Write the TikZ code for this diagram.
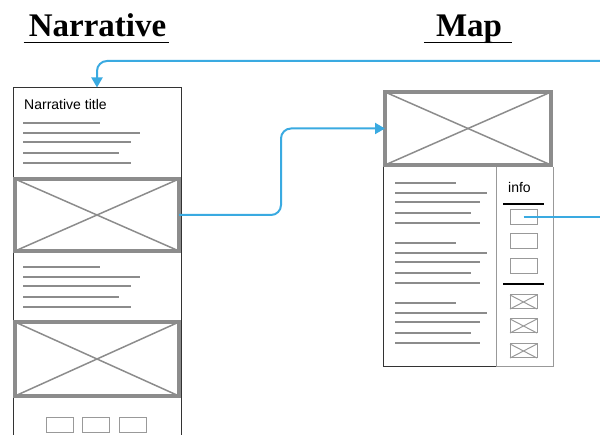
\documentclass[tikz,border=0pt]{standalone}
\usepackage{fontspec}
\setmainfont{Liberation Sans}
\newfontfamily\headfont{Liberation Serif}
\usetikzlibrary{arrows.meta}
\definecolor{wiregray}{HTML}{8C8C8C}
\definecolor{linkblue}{HTML}{3AAAE1}
\tikzset{
  heading/.style={font=\headfont\bfseries\fontsize{33}{33}\selectfont, anchor=base, inner sep=0pt},
  uline/.style={black, line width=1.6pt},
  frame/.style={draw=black!80, line width=1pt},
  softframe/.style={draw=black!40, line width=1pt},
  imgbox/.style={draw=wiregray, line width=4pt, outer sep=0pt, inner sep=0pt},
  crossline/.style={wiregray, line width=1.5pt},
  textline/.style={wiregray, line width=2.5pt},
  smallbox/.style={draw=black!40, line width=1pt, inner sep=0pt, outer sep=0pt, minimum width=27pt, minimum height=15pt},
  label14/.style={font=\fontsize{14}{14}\selectfont, anchor=base west, inner sep=0pt},
  link/.style={linkblue, line width=2pt, rounded corners=10pt},
  tip/.style={-{Triangle[length=10pt,width=11pt]}}
}
\begin{document}
\begin{tikzpicture}[x=1pt,y=-1pt]
    \useasboundingbox (0,0) rectangle (600,435);
    \node[heading] (tnarr) at (97.5,37) {Narrative};
    \draw[uline] ([shift={(-5,5.5)}]tnarr.base west) -- ([shift={(3,5.5)}]tnarr.base east);
    \node[heading] (tmap) at (469,37) {Map};
    \draw[uline] ([shift={(-12,5.5)}]tmap.base west) -- ([shift={(10,5.5)}]tmap.base east);
    \node[frame, inner sep=0pt, minimum width=168pt, minimum height=90pt] (ntext) at (97,133) {};
    \draw[frame] (13,178) -- (13,435) (181,178) -- (181,435);
    \node[label14] (ntitle) at (24,110) {Narrative title};
    \foreach \yb in {123,267}
      \foreach \yo/\xe in {0/100,10/140,19/131,30/119,40/131}
        \draw[textline] (23,\yb+\yo) -- (\xe,\yb+\yo);
    \node[imgbox, minimum width=164pt, minimum height=72pt] (nimgA) at (97,215) {};
    \node[imgbox, minimum width=164pt, minimum height=74pt] (nimgB) at (97,359) {};
    \foreach \x [count=\i] in {60,96,132.5}
      \node[smallbox] (nbtn\i) at (\x,425.5) {};
    \node[imgbox, minimum width=166pt, minimum height=73pt] (mimg) at (468,128.5) {};
    \foreach \n in {nimgA,nimgB,mimg} {
      \draw[crossline] (\n.north west) -- (\n.south east);
      \draw[crossline] (\n.south west) -- (\n.north east);
    }
    \draw[frame] (383,167) -- (383,367) -- (496,367);
    \draw[softframe] (496,167) -- (496,367) -- (553,367) -- (553,167);
    \foreach \yb in {183,243,303}
      \foreach \yo/\xe in {0/456,10/487,19/480,30/471,40/480}
        \draw[textline] (395,\yb+\yo) -- (\xe,\yb+\yo);
    \node[label14] (minfo) at (508,193) {info};
    \draw[line width=1.5pt] (503,204) -- (544,204);
    \draw[line width=1.5pt] (503,284) -- (544,284);
    \foreach \y [count=\i] in {217.5,241.5,266.5}
      \node[smallbox] (mbox\i) at (523.5,\y) {};
    \foreach \y [count=\i] in {302,326,351} {
      \node[smallbox, minimum height=14pt] (mxbox\i) at (523.5,\y) {};
      \draw[black!40, line width=1pt] (mxbox\i.north west) -- (mxbox\i.south east)
        (mxbox\i.south west) -- (mxbox\i.north east);
    }
    \coordinate (edgeA) at (600,61);
    \coordinate (edgeB) at (600,217.5);
    \draw[link, tip] (edgeA) -| (ntext.north);
    \draw[link, tip] (nimgA.east) -- ++(102,0) |- (mimg.west);
    \draw[link] (mbox1.center) -- (edgeB);
  \end{tikzpicture}
\end{document}
